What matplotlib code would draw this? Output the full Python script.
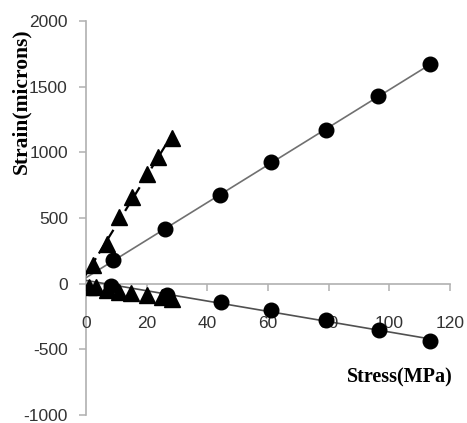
import numpy as np
import matplotlib.pyplot as plt

plt.rcParams['font.family'] = 'Liberation Sans'

# circles (upper / lower) and triangles (upper / lower)
circ_x = [9.0, 26.1, 44.1, 61.0, 79.1, 96.2, 113.4]
circ_up = [177, 417, 675, 924, 1171, 1429, 1670]
circ_low_x = [8.4, 26.6, 44.4, 61.0, 79.0, 96.4, 113.4]
circ_low = [-20, -83, -142, -203, -273, -354, -437]

tri_x = [2.2, 6.8, 10.9, 15.1, 20.1, 23.9, 28.3]
tri_up = [139, 304, 506, 658, 835, 962, 1113]
tri_low_x = [0.9, 3.3, 7.0, 10.9, 14.8, 20.2, 25.0, 28.3]
tri_low = [-23, -25, -45, -60, -68, -83, -100, -115]

xticks = [0, 20, 40, 60, 80, 100, 120]
yticks = [-1000, -500, 0, 500, 1000, 1500, 2000]

fig = plt.figure(figsize=(4.67, 4.23), dpi=100)
ax = fig.add_axes([0.184, 0.019, 0.78, 0.931])

# trend lines
def trend(x, y, x0, x1, **kw):
    k, b = np.polyfit(x, y, 1)
    xx = np.array([x0, x1])
    ax.plot(xx, k * xx + b, **kw)

trend(circ_x, circ_up, -1.5, max(circ_x), color='#707070', lw=1.2, zorder=1)
trend(circ_low_x, circ_low, 0, max(circ_low_x), color='#505050', lw=1.2, zorder=1)
trend(tri_x, tri_up, -1.5, max(tri_x), color='black', lw=1.6, ls=(0, (5, 2.5)), zorder=1)

ax.plot(circ_x, circ_up, 'o', color='black', ms=10.5, ls='none', zorder=3)
ax.plot(circ_low_x, circ_low, 'o', color='black', ms=10.5, ls='none', zorder=3)
ax.plot(tri_x, tri_up, '^', color='black', ms=11.5, ls='none', zorder=3)
ax.plot(tri_low_x, tri_low, '^', color='black', ms=11.5, ls='none', zorder=3)

ax.set_xlim(0, 120)
ax.set_ylim(-1000, 2000)
ax.set_xticks(xticks)
ax.set_yticks(yticks)
ax.set_yticklabels([str(v) for v in yticks])

for s in ['top', 'right']:
    ax.spines[s].set_visible(False)
ax.spines['bottom'].set_position(('data', 0))
ax.spines['bottom'].set_color('#b0b0b0')
ax.spines['left'].set_color('#b0b0b0')
ax.spines['bottom'].set_linewidth(1.2)
ax.spines['left'].set_linewidth(1.2)
ax.spines['left'].set_zorder(0)
ax.spines['bottom'].set_zorder(0)

ax.tick_params(axis='x', direction='out', length=5, width=1.1, color='#b0b0b0',
               pad=18, labelsize=12.5, labelcolor='#333333')
ax.tick_params(axis='y', direction='out', length=5, width=1.1, color='#b0b0b0',
               pad=8, labelsize=12.5, labelcolor='#333333')
ax.patch.set_visible(False)

fig.text(21 / 467, 1 - 101 / 423, 'Strain(microns)', rotation=90, ha='center', va='center',
         family='Liberation Serif', fontweight='bold', fontsize=15.5)
fig.text(400 / 467, 1 - 377 / 423, 'Stress(MPa)', ha='center', va='center',
         family='Liberation Serif', fontweight='bold', fontsize=14.5)

fig.savefig('out.png', dpi=100)
